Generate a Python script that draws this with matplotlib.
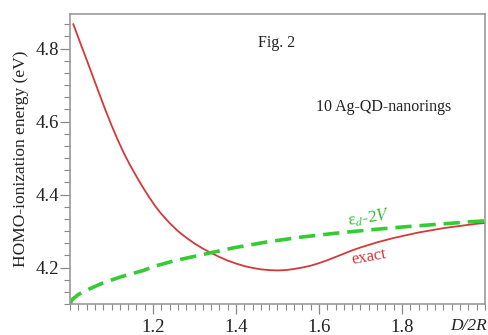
import matplotlib
matplotlib.use("Agg")
import matplotlib.pyplot as plt
from matplotlib.ticker import MultipleLocator

plt.rcParams['font.family'] = ['Liberation Serif', 'DejaVu Serif']
plt.rcParams['mathtext.fontset'] = 'stix'

# courbe "exact" (rouge)
x_exact = [1.008, 1.025, 1.04, 1.055, 1.07, 1.085, 1.10, 1.115, 1.13, 1.145,
           1.16, 1.175, 1.19, 1.205, 1.22, 1.24, 1.26, 1.28, 1.30, 1.32,
           1.34, 1.36, 1.38, 1.40, 1.42, 1.44, 1.46, 1.48, 1.50, 1.52,
           1.54, 1.56, 1.58, 1.60, 1.62, 1.64, 1.66, 1.68, 1.70, 1.72,
           1.74, 1.76, 1.78, 1.80, 1.82, 1.84, 1.86, 1.88, 1.90, 1.92,
           1.94, 1.96, 1.98, 2.00]
y_exact = [4.867, 4.815, 4.770, 4.724, 4.678, 4.633, 4.590, 4.550, 4.513, 4.480,
           4.450, 4.421, 4.394, 4.369, 4.347, 4.322, 4.300, 4.282, 4.266, 4.252,
           4.240, 4.229, 4.219, 4.211, 4.204, 4.199, 4.195, 4.193, 4.192, 4.193,
           4.196, 4.200, 4.205, 4.212, 4.220, 4.229, 4.238, 4.247, 4.255, 4.262,
           4.269, 4.275, 4.281, 4.286, 4.291, 4.296, 4.300, 4.304, 4.308, 4.311,
           4.314, 4.317, 4.320, 4.322]

# courbe eps_d - 2V (vert, tirets)
x_approx = [1.0, 1.005, 1.02, 1.044, 1.08, 1.124, 1.177, 1.205, 1.25, 1.313,
            1.394, 1.474, 1.554, 1.64, 1.72, 1.80, 1.88, 1.96, 2.00]
y_approx = [4.100, 4.112, 4.126, 4.140, 4.158, 4.175, 4.192, 4.204, 4.218, 4.234,
            4.254, 4.270, 4.283, 4.294, 4.303, 4.311, 4.318, 4.325, 4.328]

x_ticks = [1.2, 1.4, 1.6, 1.8]
y_ticks = [4.2, 4.4, 4.6, 4.8]

fig = plt.figure(figsize=(4.89, 3.35), dpi=100)
ax = fig.add_axes([70/489, 1 - 304/335, 415/489, 290/335])

ax.plot(x_exact, y_exact, color='#d23a3a', lw=1.3)
ax.plot(x_approx, y_approx, color='#33cc33', lw=2.6, dashes=(4.5, 2.2))

ax.set_xlim(1.0, 2.0)
ax.set_ylim(4.10, 4.895)
ax.set_xticks(x_ticks)
ax.set_xticklabels([str(t) for t in x_ticks])
ax.set_yticks(y_ticks)
ax.set_yticklabels([str(t) for t in y_ticks])
ax.xaxis.set_minor_locator(MultipleLocator(0.02))
ax.yaxis.set_minor_locator(MultipleLocator(0.2 / 6))

for s in ax.spines.values():
    s.set_color('#999999')
    s.set_linewidth(1.2)
ax.tick_params(which='major', length=7, width=0.9, color='#888888',
               labelsize=13.5, labelcolor='#222222')
ax.tick_params(which='minor', length=4, width=0.8, color='#888888')
ax.tick_params(axis='x', which='major', pad=4)
ax.tick_params(axis='y', which='major', pad=1)

ax.text(1.96, -0.075, 'D/2R', transform=ax.get_xaxis_transform(), ha='center',
        va='center', fontsize=12.5, fontstyle='italic', color='#222222')

ax.set_ylabel('HOMO-ionization energy (eV)', fontsize=12.5, color='#222222')
ax.yaxis.set_label_coords(-0.098, 0.5)

ax.text(0.498, 0.9, 'Fig. 2', transform=ax.transAxes, ha='center', va='center',
        fontsize=11.5, color='#222222')
ax.text(0.755, 0.68, '10 Ag-QD-nanorings', transform=ax.transAxes, ha='center',
        va='center', fontsize=11.5, color='#222222')
ax.text(1.72, 4.335, 'ε$_d$-2$V$', ha='center', va='center', fontsize=12.5,
        color='#33bb33', rotation=8)
ax.text(1.72, 4.228, 'exact', ha='center', va='center', fontsize=12,
        color='#d23a3a', rotation=10)

fig.savefig('out.png', dpi=100)
